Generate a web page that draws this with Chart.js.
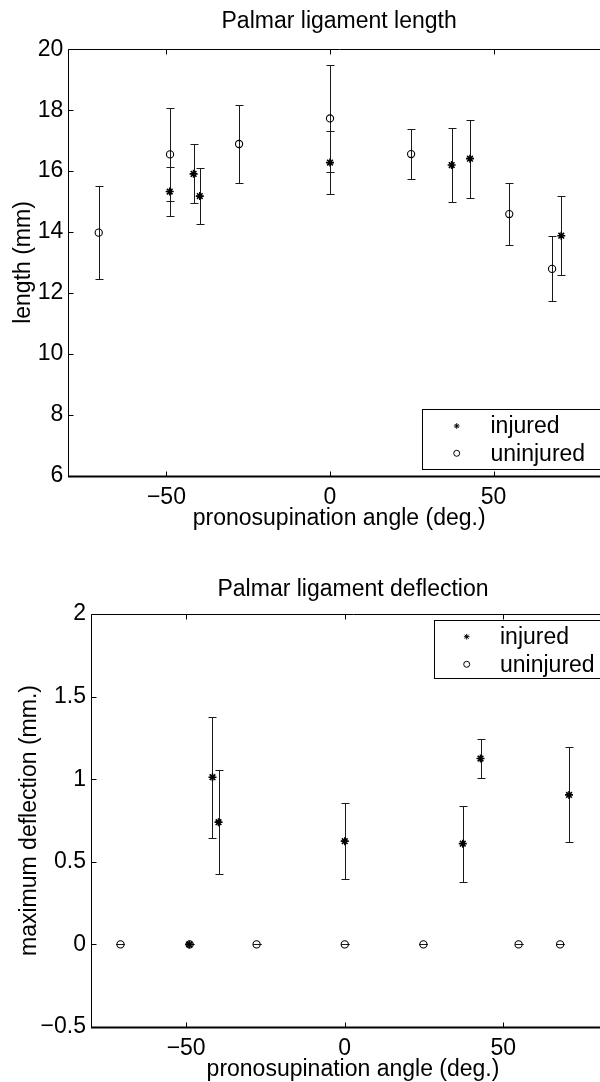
<!DOCTYPE html>
<html><head><meta charset="utf-8">
<script src="https://cdn.jsdelivr.net/npm/chart.js@4/dist/chart.umd.min.js"></script>
<style>
html,body{margin:0;padding:0;background:#fff;}
body{width:600px;height:1082px;overflow:hidden;position:relative;}
.wrap{position:absolute;left:0;width:640px;}
canvas{display:block;}
</style></head><body>
<div class="wrap" style="top:0;height:545px"><canvas id="c1" width="640" height="545"></canvas></div>
<div class="wrap" style="top:545px;height:550px"><canvas id="c2" width="640" height="550"></canvas></div>
<script>
// ---------- data ----------
const seriesNames = ['injured', 'uninjured'];
const xTickValues = [-50, 0, 50];
const injuredAngle   = [-49.0, -41.7, -39.8, 0, 37.2, 42.8, 70.7];
const uninjuredAngle = [-70.7, -48.9, -27.8, 0, 24.8, 54.8, 67.9];
const lengthInjured      = [15.33, 15.91, 15.18, 16.28, 16.20, 16.41, 13.88];
const lengthInjuredErr   = [0.79, 0.97, 0.93, 1.04, 1.22, 1.28, 1.29];
const lengthUninjured    = [13.98, 16.55, 16.89, 17.73, 16.56, 14.59, 12.79];
const lengthUninjuredErr = [1.53, 1.53, 1.27, 1.75, 0.83, 1.01, 1.07];
const deflInjured      = [0, 1.012, 0.74, 0.625, 0.61, 1.125, 0.905];
const deflInjuredErr   = [0, 0.365, 0.316, 0.23, 0.23, 0.12, 0.288];
const deflUninjured    = [0, 0, 0, 0, 0, 0, 0];
const deflUninjuredErr = [0, 0, 0, 0, 0, 0, 0];

// ---------- helpers ----------
const FONT = "'Liberation Sans', Arial, Helvetica, sans-serif";
const FS = 23;
const fmt = v => String(v).replace('-', '\u2212');

function drawMarker(ctx, style, r, lw, x, y) {
  ctx.save();
  ctx.strokeStyle = '#000';
  ctx.lineWidth = lw;
  ctx.beginPath();
  if (style === 'circle') {
    ctx.arc(x, y, r, 0, Math.PI * 2);
  } else {
    for (let k = 0; k < 4; k++) {
      const a = k * Math.PI / 4;
      ctx.moveTo(x - r * Math.cos(a), y - r * Math.sin(a));
      ctx.lineTo(x + r * Math.cos(a), y + r * Math.sin(a));
    }
  }
  ctx.stroke();
  ctx.restore();
}

const errPlugin = {
  id: 'errbars',
  beforeDatasetsDraw(chart) {
    const ctx = chart.ctx, xs = chart.scales.x, ys = chart.scales.y;
    ctx.save();
    ctx.strokeStyle = '#1a1a1a';
    ctx.lineWidth = 1;
    chart.data.datasets.forEach(ds => {
      ds.data.forEach((p, i) => {
        const e = ds.errors[i];
        const px = Math.round(xs.getPixelForValue(p.x)) + 0.5;
        const y1 = Math.round(ys.getPixelForValue(p.y + e)) + 0.5;
        const y2 = Math.round(ys.getPixelForValue(p.y - e)) + 0.5;
        ctx.beginPath();
        ctx.moveTo(px, y1); ctx.lineTo(px, y2);
        ctx.moveTo(px - 4, y1); ctx.lineTo(px + 4, y1);
        ctx.moveTo(px - 4, y2); ctx.lineTo(px + 4, y2);
        ctx.stroke();
      });
    });
    ctx.restore();
  }
};

const framePlugin = {
  id: 'frame',
  afterDatasetsDraw(chart) {
    const ctx = chart.ctx, a = chart.chartArea, xs = chart.scales.x, ys = chart.scales.y;
    const L = Math.round(a.left) + 0.5, R = Math.round(a.right) + 0.5;
    const T = Math.round(a.top) + 0.5, B = Math.round(a.bottom) + 0.5;
    ctx.save();
    ctx.strokeStyle = '#000';
    ctx.lineWidth = 1;
    ctx.beginPath();
    ctx.moveTo(L, T); ctx.lineTo(R, T);
    ctx.moveTo(L, T); ctx.lineTo(L, B);
    ctx.moveTo(R, T); ctx.lineTo(R, B);
    xs.ticks.forEach(t => {
      const x = Math.round(xs.getPixelForValue(t.value)) + 0.5;
      ctx.moveTo(x, B); ctx.lineTo(x, B - 5);
      ctx.moveTo(x, T); ctx.lineTo(x, T + 5);
    });
    ys.ticks.forEach(t => {
      const y = Math.round(ys.getPixelForValue(t.value)) + 0.5;
      ctx.moveTo(L, y); ctx.lineTo(L + 5, y);
      ctx.moveTo(R, y); ctx.lineTo(R - 5, y);
    });
    ctx.stroke();
    ctx.lineWidth = 2;
    ctx.beginPath();
    ctx.moveTo(L - 0.5, B); ctx.lineTo(R, B);
    ctx.stroke();
    ctx.restore();
  }
};

const boxLegendPlugin = {
  id: 'boxLegend',
  afterDraw(chart, args, o) {
    const ctx = chart.ctx;
    ctx.save();
    ctx.fillStyle = '#fff';
    ctx.fillRect(o.left, o.top, o.right - o.left, o.bottom - o.top);
    ctx.strokeStyle = '#000';
    ctx.lineWidth = 1;
    ctx.strokeRect(o.left + 0.5, o.top + 0.5, o.right - o.left, o.bottom - o.top);
    ctx.fillStyle = '#000';
    ctx.font = FS + 'px ' + FONT;
    ctx.textBaseline = 'middle';
    ctx.textAlign = 'left';
    chart.data.datasets.forEach((ds, i) => {
      const y = o.rows[i];
      const small = ds.pointStyle === 'circle' ? 3 : 2.8;
      drawMarker(ctx, ds.pointStyle, small, 1, o.markerX, y);
      ctx.fillText(ds.label, o.textX, y + 1);
    });
    ctx.restore();
  }
};

function datasets(yInj, eInj, yUn, eUn) {
  return [
    { label: seriesNames[0], data: injuredAngle.map((x, i) => ({ x, y: yInj[i] })), errors: eInj,
      pointStyle: 'star', pointRadius: 4, pointBorderWidth: 1.6, borderColor: '#000',
      backgroundColor: 'rgba(0,0,0,0)', showLine: false },
    { label: seriesNames[1], data: uninjuredAngle.map((x, i) => ({ x, y: yUn[i] })), errors: eUn,
      pointStyle: 'circle', pointRadius: 3.6, pointBorderWidth: 1.1, borderColor: '#000',
      backgroundColor: 'rgba(0,0,0,0)', showLine: false }
  ];
}

function makeOptions(g) {
  const font = { family: FONT, size: FS, weight: 'normal' };
  return {
    responsive: false, animation: false, devicePixelRatio: 1,
    layout: { padding: { left: 0, top: 0, right: g.padRight, bottom: 0 } },
    plugins: {
      legend: { display: false }, tooltip: { enabled: false },
      title: { display: true, text: g.title, fullSize: false, color: '#000', font,
               padding: { top: g.titleTop, bottom: g.titleBottom } },
      boxLegend: g.legend
    },
    scales: {
      x: {
        type: 'linear', min: -80, max: g.xmax,
        afterBuildTicks: s => { s.ticks = xTickValues.map(v => ({ value: v })); },
        afterFit: s => { s.height = g.xHeight; },
        grid: { display: false, drawTicks: false }, border: { display: false },
        ticks: { color: '#000', font, padding: 8, maxRotation: 0, autoSkip: false, callback: fmt },
        title: { display: true, text: 'pronosupination angle (deg.)', color: '#000', font,
                 padding: { top: 0, bottom: g.xTitleBottom } }
      },
      y: {
        min: g.ymin, max: g.ymax,
        afterFit: s => { s.width = g.yWidth; },
        grid: { display: false, drawTicks: false }, border: { display: false },
        ticks: { color: '#000', font, padding: 5, stepSize: g.ystep, autoSkip: false, callback: fmt },
        title: { display: true, text: g.ytitle, color: '#000', font,
                 padding: { top: g.yTitleTop, bottom: 0 } }
      }
    }
  };
}

new Chart(document.getElementById('c1'), {
  type: 'scatter',
  data: { datasets: datasets(lengthInjured, lengthInjuredErr, lengthUninjured, lengthUninjuredErr) },
  options: makeOptions({
    title: 'Palmar ligament length', titleTop: 8.2, titleBottom: 13.5, padRight: 30,
    xmax: 85.6, xHeight: 69.3, xTitleBottom: 12.9, yWidth: 68.3, yTitleTop: 10.2,
    ymin: 6, ymax: 20, ystep: 2, ytitle: 'length (mm)',
    legend: { left: 422, top: 409, bottom: 469, right: 607, markerX: 456.7, textX: 490.5, rows: [426, 453.3] }
  }),
  plugins: [errPlugin, framePlugin, boxLegendPlugin]
});

new Chart(document.getElementById('c2'), {
  type: 'scatter',
  data: { datasets: datasets(deflInjured, deflInjuredErr, deflUninjured, deflUninjuredErr) },
  options: makeOptions({
    title: 'Palmar ligament deflection', titleTop: 31.2, titleBottom: 10.2, padRight: 25,
    xmax: 85.2, xHeight: 68, xTitleBottom: 11.2, yWidth: 91, yTitleTop: 16.2,
    ymin: -0.5, ymax: 2, ystep: 0.5, ytitle: 'maximum deflection (mm.)',
    legend: { left: 434, top: 75, bottom: 133, right: 607, markerX: 466.7, textX: 500, rows: [91.7, 119.3] }
  }),
  plugins: [errPlugin, framePlugin, boxLegendPlugin]
});
</script>
</body></html>
